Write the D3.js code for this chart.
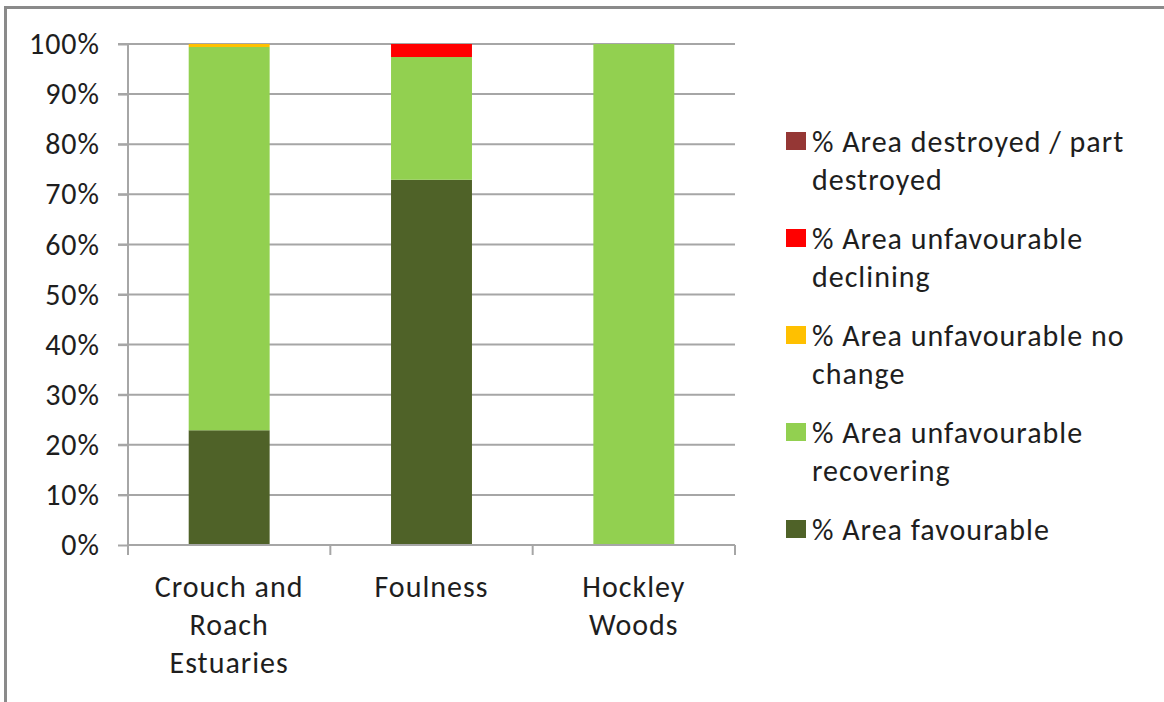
<!DOCTYPE html>
<html>
<head>
<meta charset="utf-8">
<script src="https://cdn.jsdelivr.net/npm/d3@7"></script>
<style>
  html, body { margin: 0; padding: 0; background: #fff; }
  svg { display: block; }
  text { font-family: Carlito, Lato, "Open Sans", sans-serif; fill: #1e1e1e; letter-spacing: 1px; }
</style>
</head>
<body>
<svg id="chart" width="1164" height="702"></svg>
<script>
// Site names (split into lines as shown under the axis)
const categories = ["Crouch and Roach Estuaries", "Foulness", "Hockley Woods"];
const categoryLines = [["Crouch and", "Roach", "Estuaries"], ["Foulness"], ["Hockley", "Woods"]];

// Condition classes, bottom of stack first
const seriesNames = [
  "% Area favourable",
  "% Area unfavourable recovering",
  "% Area unfavourable no change",
  "% Area unfavourable declining",
  "% Area destroyed / part destroyed"
];
const seriesColors = ["#4F6228", "#92D050", "#FFC000", "#FF0000", "#953735"];

// Share of area (%) per site, one array per condition class
const favourable = [22.9, 72.9, 0];
const recovering = [76.5, 24.5, 100];
const noChange   = [0.6, 0, 0];
const declining  = [0, 2.6, 0];
const destroyed  = [0, 0, 0];

const yTicks = [0, 10, 20, 30, 40, 50, 60, 70, 80, 90, 100];

// Legend text, wrapped lines, listed top to bottom
const legendLines = [
  ["% Area destroyed / part", "destroyed"],
  ["% Area unfavourable", "declining"],
  ["% Area unfavourable no", "change"],
  ["% Area unfavourable", "recovering"],
  ["% Area favourable"]
];

const seriesValues = [favourable, recovering, noChange, declining, destroyed];
const rows = categories.map((c, i) => {
  const r = { site: c };
  seriesNames.forEach((s, j) => { r[s] = seriesValues[j][i]; });
  return r;
});

const svg = d3.select("#chart");
const plot = { left: 128, right: 735, top: 44, bottom: 545 };
const fontSize = "30px";

// Outer chart frame (extends past the right and bottom edges)
svg.append("rect")
  .attr("x", 5.5).attr("y", 7.5)
  .attr("width", 1200).attr("height", 720)
  .attr("fill", "none").attr("stroke", "#8a8a8a").attr("stroke-width", 3);

const x = d3.scaleBand().domain(categories).range([plot.left, plot.right]).paddingInner(0.6).paddingOuter(0.3);
const xOuter = d3.scaleBand().domain(categories).range([plot.left, plot.right]).padding(0);
const y = d3.scaleLinear().domain([0, 100]).range([plot.bottom, plot.top]);

// Horizontal gridlines
svg.append("g").selectAll("line").data(yTicks.filter(t => t > 0)).join("line")
  .attr("x1", plot.left - 10).attr("x2", plot.right)
  .attr("y1", d => y(d)).attr("y2", d => y(d))
  .attr("stroke", "#a6a6a6").attr("stroke-width", 2);

// Stacked bars
const stack = d3.stack().keys(seriesNames)(rows);
svg.append("g").selectAll("g").data(stack).join("g")
  .attr("fill", (d, i) => seriesColors[i])
  .selectAll("rect").data(d => d).join("rect")
  .attr("x", d => x(d.data.site))
  .attr("width", x.bandwidth())
  .attr("y", d => y(d[1]))
  .attr("height", d => Math.max(0, y(d[0]) - y(d[1])));

// Y axis
const yAxis = svg.append("g").attr("transform", `translate(${plot.left},0)`)
  .call(d3.axisLeft(y).tickValues(yTicks).tickFormat(d => d + "%").tickSize(10).tickPadding(18));
yAxis.select(".domain").attr("stroke", "#a6a6a6").attr("stroke-width", 2).attr("d", `M0,${plot.top}V${plot.bottom}`);
yAxis.selectAll(".tick line").attr("stroke", "#a6a6a6").attr("stroke-width", 2);
yAxis.selectAll(".tick text").style("font-size", fontSize).attr("fill", "#1e1e1e").attr("font-family", null);

// X axis line with category dividers
const xg = svg.append("g");
xg.append("line").attr("x1", plot.left).attr("x2", plot.right)
  .attr("y1", plot.bottom).attr("y2", plot.bottom)
  .attr("stroke", "#a6a6a6").attr("stroke-width", 2);
const dividers = categories.map(c => xOuter(c)).concat([plot.right]);
xg.selectAll("line.div").data(dividers).join("line").attr("class", "div")
  .attr("x1", d => d).attr("x2", d => d)
  .attr("y1", plot.bottom).attr("y2", plot.bottom + 10)
  .attr("stroke", "#a6a6a6").attr("stroke-width", 2);

// Category labels
categories.forEach((c, i) => {
  const cx = x(c) + x.bandwidth() / 2;
  const t = svg.append("text")
    .attr("x", cx)
    .attr("y", 597)
    .attr("text-anchor", "middle")
    .style("font-size", fontSize);
  categoryLines[i].forEach((ln, k) => {
    t.append("tspan").attr("x", cx).attr("dy", k === 0 ? 0 : 38).text(ln);
  });
});

// Legend
const legendTop = 141, legendStep = 97;
legendLines.forEach((lines, i) => {
  const color = seriesColors[seriesColors.length - 1 - i];
  const cy = legendTop + i * legendStep;
  svg.append("rect").attr("x", 786).attr("y", cy - 9).attr("width", 20).attr("height", 18).attr("fill", color);
  const t = svg.append("text").attr("x", 812).attr("y", cy + 11).style("font-size", fontSize);
  lines.forEach((ln, k) => {
    t.append("tspan").attr("x", 812).attr("dy", k === 0 ? 0 : 38).text(ln);
  });
});
</script>
</body>
</html>
